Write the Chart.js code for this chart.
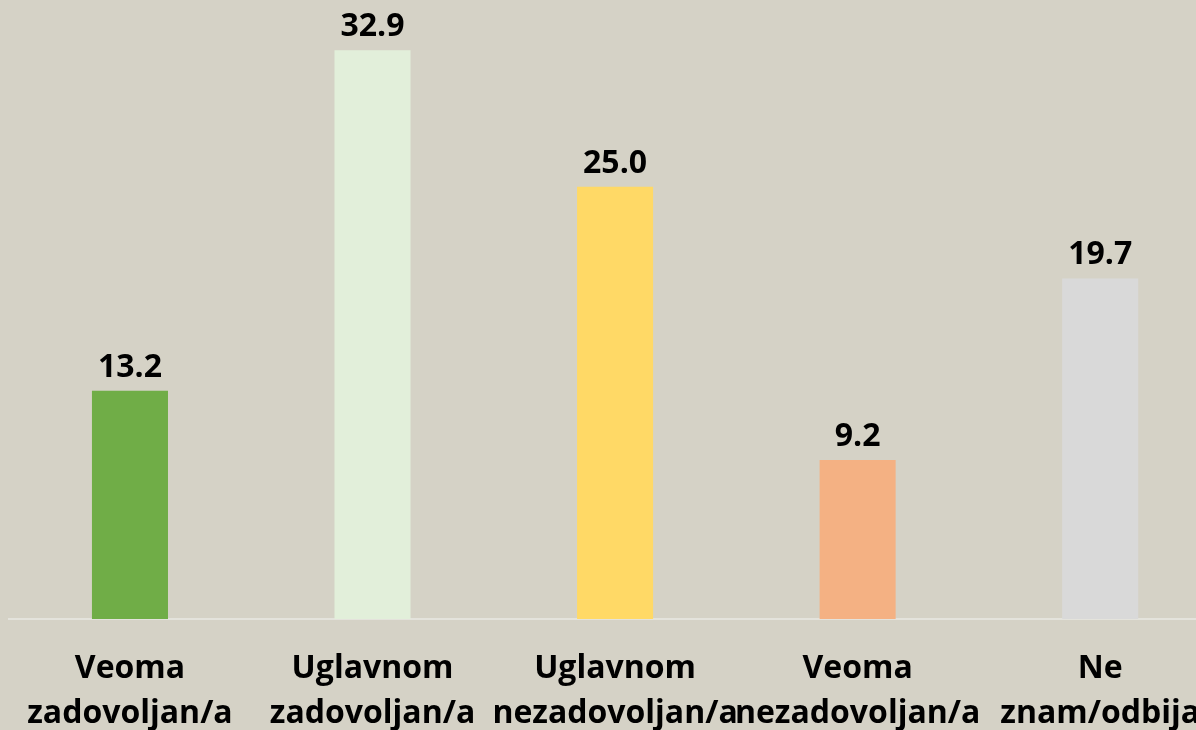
<!DOCTYPE html>
<html>
<head>
<meta charset="utf-8">
<script src="https://cdn.jsdelivr.net/npm/chart.js@4/dist/chart.umd.min.js"></script>
<style>
  html, body { margin: 0; padding: 0; overflow: hidden; width: 1196px; height: 730px; background: #d5d2c6; }
  #wrap { position: absolute; left: 0; top: 0; width: 1227px; height: 767px; }
  canvas { display: block; }
</style>
</head>
<body>
<div id="wrap"><canvas id="c" width="1227" height="767"></canvas></div>
<script>
const categories = [
  ["Veoma", "zadovoljan/a"],
  ["Uglavnom", "zadovoljan/a"],
  ["Uglavnom", "nezadovoljan/a"],
  ["Veoma", "nezadovoljan/a"],
  ["Ne", "znam/odbija"]
];
const values = [13.2, 32.9, 25.0, 9.2, 19.7];
const barColors = ["#70ad47", "#e2efda", "#ffd966", "#f4b183", "#d9d9d9"];

const FONT = "'Open Sans', Lato, sans-serif";

const valueLabels = {
  id: 'valueLabels',
  afterDatasetsDraw(chart) {
    const ctx = chart.ctx;
    const meta = chart.getDatasetMeta(0);
    ctx.save();
    ctx.font = "bold 32px " + FONT;
    ctx.fillStyle = "#000000";
    ctx.textAlign = "center";
    ctx.textBaseline = "alphabetic";
    meta.data.forEach((bar, i) => {
      ctx.fillText(values[i].toFixed(1), bar.x, bar.y - 14);
    });
    ctx.restore();
  }
};

new Chart(document.getElementById('c'), {
  type: 'bar',
  data: {
    labels: categories,
    datasets: [{
      data: values,
      backgroundColor: barColors,
      borderWidth: 0,
      barPercentage: 0.3135,
      categoryPercentage: 1.0
    }]
  },
  options: {
    responsive: false,
    animation: false,
    events: [],
    layout: { padding: { left: 8, right: 0, top: 14, bottom: 4 } },
    plugins: { legend: { display: false }, tooltip: { enabled: false }, title: { display: false } },
    scales: {
      x: {
        offset: true,
        grid: { display: false, drawTicks: false, tickLength: 0 },
        border: { display: true, color: "#e4e3dc", width: 2 },
        ticks: {
          autoSkip: false,
          maxRotation: 0,
          minRotation: 0,
          padding: 27,
          color: "#000000",
          font: { family: FONT, size: 32, weight: 'bold', lineHeight: 1.406 }
        }
      },
      y: {
        display: false,
        min: 0,
        max: 35
      }
    }
  },
  plugins: [valueLabels]
});
</script>
</body>
</html>
